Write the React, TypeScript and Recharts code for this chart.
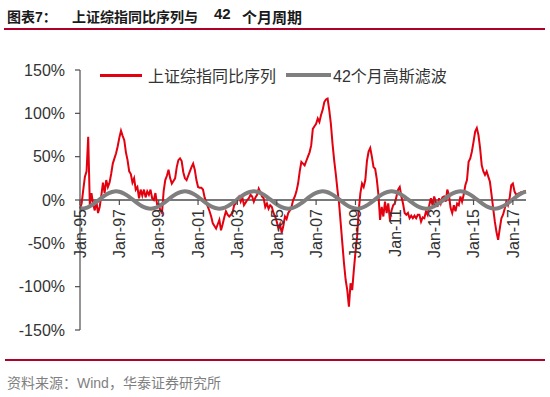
import { LineChart, Line, XAxis, YAxis, ReferenceLine } from "recharts";

// 上证综指同比 (%), monthly, Jan-1995 .. Sep-2017
const yoyValues: number[] = [
  -10, -4, 12, 27, 33, 73, -6, 8, -5, -12, -2, -15, // 1995
  -8, 5, 20, 8, 23, 15, 20, 30, 42, 48, 54, 62, // 1996
  72, 80, 74, 69, 55, 46, 33, 30, 20, 25, 12, 15, // 1997
  2, 12, 5, 12, 3, 10, 6, 12, 2, 0, 8, -5, // 1998
  -5, -12, -15, 10, 23, 28, 35, 25, 19, 22, 25, 38, // 1999
  46, 48, 45, 32, 25, 23, 28, 33, 38, 42, 35, 23, // 2000
  15, 14, 14, 12, 3, -3, -8, -13, -19, -27, -30, -33, // 2001
  -28, -23, -35, -28, -20, -13, -17, -19, -17, -15, -6, -4, // 2002
  2, 4, -2, 3, -6, -3, 0, 2, 6, 4, -2, 3, // 2003
  6, 13, 9, 4, 2, -8, -4, -10, -6, -8, -15, -19, // 2004
  -25, -33, -28, -38, -30, -19, -22, -15, -12, -8, 0, 4, // 2005
  10, 19, 33, 44, 42, 40, 45, 50, 55, 63, 82, 85, // 2006
  88, 94, 90, 98, 104, 113, 116, 117, 104, 88, 65, 46, // 2007
  30, 12, -4, -27, -50, -73, -92, -104, -123, -96, -104, -81, // 2008
  -60, -42, -12, 8, 19, 15, 23, 45, 56, 60, 50, 38, // 2009
  36, 24, 6, -23, -8, -19, -2, -15, -4, -23, -12, -6, // 2010
  -4, 4, 12, 15, 4, -4, -15, -17, -15, -21, -18, -21, // 2011
  -18, -21, -17, -17, -25, -20, -21, -13, -17, -6, 2, -6, // 2012
  4, -2, -8, 2, -4, 3, 4, -2, 12, 6, -9, -15, // 2013
  -6, -13, -4, -6, 4, -2, 6, 17, 23, 44, 48, 56, // 2014
  67, 79, 83, 75, 60, 40, 33, 29, 33, 27, 21, 6, // 2015
  -10, -25, -37, -46, -33, -21, -17, -10, -2, -6, 2, 17, // 2016
  19, 10, 6, 7, 8, 9, 9, 10, 10, // 2017
];

// 42个月高斯滤波 (%), read every 3 months from Jan-1995
const gaussQuarterly: number[] = [
  -9.9, -9.6, -7.3, -3.7, 0.7, 5.0, 8.3, 9.9, 9.6, 7.3, 3.7, -0.7, -5.0, -8.3,
  -9.9, -9.6, -7.3, -3.7, 0.7, 5.0, 8.3, 9.9, 9.6, 7.3, 3.7, -0.7, -5.0, -8.3,
  -9.9, -9.6, -7.3, -3.7, 0.7, 5.0, 8.3, 9.9, 9.6, 7.3, 3.7, -0.7, -5.0, -8.3,
  -9.9, -9.6, -7.3, -3.7, 0.7, 5.0, 8.3, 9.9, 9.6, 7.3, 3.7, -0.7, -5.0, -8.3,
  -9.9, -9.6, -7.3, -3.7, 0.7, 5.0, 8.3, 9.9, 9.6, 7.3, 3.7, -0.7, -5.0, -8.3,
  -9.9, -9.6, -7.3, -3.7, 0.7, 5.0, 8.3, 9.9, 9.6, 7.3, 3.7, -0.7, -5.0, -8.3,
  -9.9, -9.6, -7.3, -3.7, 0.7, 5.0, 8.3,
];
const gaussLast = 9.6; // Sep-2017

const xTickLabels = [
  "Jan-95", "Jan-97", "Jan-99", "Jan-01", "Jan-03", "Jan-05",
  "Jan-07", "Jan-09", "Jan-11", "Jan-13", "Jan-15", "Jan-17",
];
const yTicks = [-150, -100, -50, 0, 50, 100, 150];
const seriesNames = ["上证综指同比序列", "42个月高斯滤波"];

const data = yoyValues.map((v, m) => ({
  m,
  yoy: v,
  gauss:
    m % 3 === 0
      ? gaussQuarterly[m / 3] ?? null
      : m === yoyValues.length - 1
      ? gaussLast
      : null,
}));
const xTicks = xTickLabels.map((_, i) => i * 24);

const LATIN = '"Liberation Sans", Arial, sans-serif';
const CJK = '"Liberation Sans", "Noto Sans CJK SC", sans-serif';
const RED = "#E3000F";
const GREY = "#7F7F7F";
const AXIS = "#4D4D4D";
const RULE = "#B0002A";

const PLOT_TOP = 70;
const PLOT_H = 260;
const ZERO_Y = PLOT_TOP + PLOT_H / 2;

function DateTick(props: any) {
  const { x, payload } = props;
  const label = xTickLabels[xTicks.indexOf(payload.value)];
  const ty = ZERO_Y + 9;
  return (
    <g>
      <line x1={x} x2={x} y1={ZERO_Y} y2={ZERO_Y + 5} stroke={AXIS} strokeWidth={1.2} />
      <text
        x={x}
        y={ty}
        dy="0.36em"
        transform={`rotate(-90 ${x} ${ty})`}
        textAnchor="end"
        fontSize={16}
        fontFamily={LATIN}
        fill="#333"
      >
        {label}
      </text>
    </g>
  );
}

const titleStyle = {
  position: "absolute" as const,
  top: 6,
  fontWeight: 700,
  color: "#1a1a1a",
  whiteSpace: "nowrap" as const,
};

export default function App() {
  return (
    <div
      style={{
        position: "absolute",
        left: 0,
        top: 0,
        width: 550,
        height: 397,
        background: "#fff",
        overflow: "hidden",
        fontFamily: CJK,
      }}
    >
      {/* title */}
      <div style={{ ...titleStyle, left: 7, fontSize: 14 }}>图表7：</div>
      <div style={{ ...titleStyle, left: 72, fontSize: 14 }}>上证综指同比序列与</div>
      <div style={{ ...titleStyle, left: 214, top: 5, fontSize: 15 }}>42</div>
      <div style={{ ...titleStyle, left: 242, fontSize: 15 }}>个月周期</div>
      <div style={{ position: "absolute", left: 4, top: 28, width: 541, height: 2, background: RULE }} />

      <LineChart
        width={550}
        height={397}
        data={data}
        margin={{ top: PLOT_TOP, right: 24, bottom: 37, left: 20 }}
        style={{ position: "absolute", left: 0, top: 0 }}
      >
        <XAxis
          dataKey="m"
          type="number"
          domain={[0, yoyValues.length - 1]}
          ticks={xTicks}
          axisLine={false}
          tickLine={false}
          tick={<DateTick />}
          height={30}
          interval={0}
        />
        <YAxis
          domain={[-150, 150]}
          ticks={yTicks}
          width={60}
          tickSize={5}
          tickMargin={10}
          interval={0}
          tickFormatter={(v: number) => `${v}%`}
          axisLine={{ stroke: AXIS, strokeWidth: 1.2 }}
          tickLine={{ stroke: AXIS, strokeWidth: 1.2 }}
          tick={{ fontSize: 16, fontFamily: LATIN, fill: "#333" }}
        />
        <ReferenceLine y={0} stroke={AXIS} strokeWidth={1.5} />
        <Line
          dataKey="yoy"
          name={seriesNames[0]}
          type="linear"
          stroke={RED}
          strokeWidth={2}
          dot={false}
          isAnimationActive={false}
        />
        <Line
          dataKey="gauss"
          name={seriesNames[1]}
          type="natural"
          stroke={GREY}
          strokeWidth={4}
          dot={false}
          connectNulls
          isAnimationActive={false}
        />
      </LineChart>

      {/* legend */}
      <div style={{ position: "absolute", left: 100, top: 64, display: "flex", alignItems: "center", fontSize: 16, color: "#333", height: 22 }}>
        <span style={{ width: 42, height: 3, background: RED, display: "inline-block" }} />
        <span style={{ marginLeft: 6 }}>{seriesNames[0]}</span>
        <span style={{ width: 45, height: 4, background: GREY, display: "inline-block", marginLeft: 10 }} />
        <span style={{ marginLeft: 2 }}>{seriesNames[1]}</span>
      </div>

      {/* source */}
      <div style={{ position: "absolute", left: 5, top: 359, width: 540, height: 2, background: RULE }} />
      <div style={{ position: "absolute", left: 7, top: 372, fontSize: 14, color: "#7f7f7f" }}>
        资料来源：Wind，华泰证券研究所
      </div>
    </div>
  );
}
